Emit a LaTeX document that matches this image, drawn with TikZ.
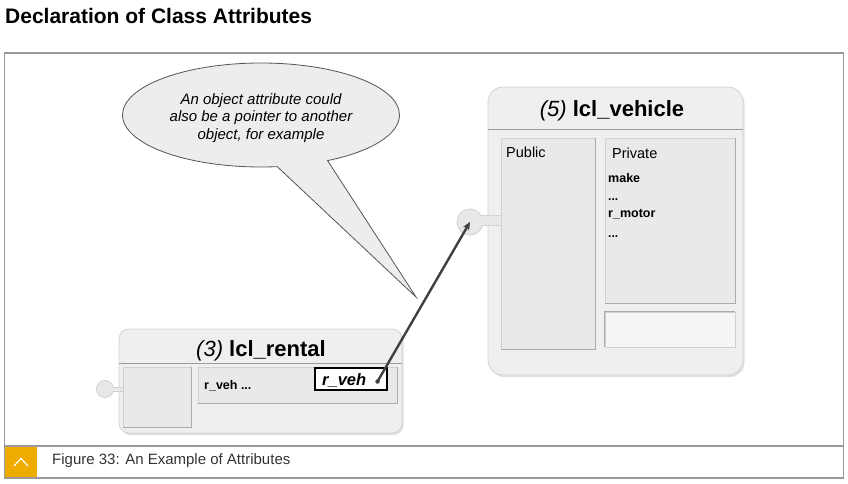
\documentclass[tikz,border=0pt]{standalone}
\usepackage{fontspec}
\setmainfont{Liberation Sans}
\usetikzlibrary{arrows.meta,shadows,shapes.callouts,shapes.geometric}
\definecolor{framecol}{HTML}{9A9A9A}
\definecolor{sapgold}{HTML}{F0AB00}
\definecolor{boxfill}{HTML}{EFEFEF}
\definecolor{boxedge}{HTML}{D4D4D4}
\definecolor{panelfill}{HTML}{E9E9E9}
\definecolor{paneledge}{HTML}{D0D0D0}
\definecolor{paneldark}{HTML}{ABABAB}
\definecolor{sepcol}{HTML}{9C9C9C}
\definecolor{ballfill}{HTML}{E8E8E8}
\definecolor{balledge}{HTML}{D2D2D2}
\definecolor{calloutfill}{HTML}{EDEDED}
\definecolor{calloutedge}{HTML}{555555}
\definecolor{pointercol}{HTML}{404040}
\definecolor{captext}{HTML}{333333}
\tikzset{
  classbox/.style={draw=boxedge, fill=boxfill, line width=0.8pt, rounded corners=#1,
    drop shadow={opacity=0.25, shadow xshift=1.5pt, shadow yshift=-2pt}, inner sep=0pt},
  panelbox/.style={draw=paneledge, fill=panelfill, line width=0.8pt, inner sep=0pt},
  darkedge/.style={draw=paneldark, line width=1pt},
  sepline/.style={draw=sepcol, line width=1pt},
  ballbox/.style={circle, draw=balledge, fill=ballfill, line width=0.8pt, inner sep=0pt},
  stubbox/.style={draw=balledge, fill=ballfill, line width=0.8pt, inner sep=0pt},
  ctitle/.style={font=\fontsize{22}{26}\selectfont, anchor=base, inner sep=0pt},
  attr/.style={font=\bfseries\fontsize{12.5}{14}\selectfont, anchor=base west, inner sep=0pt},
  dots/.style={font=\bfseries\fontsize{12}{14}\selectfont, anchor=base west, inner sep=0pt},
  plabel/.style={font=\fontsize{14.5}{17}\selectfont, anchor=base west, inner sep=0pt},
}
\begin{document}
\begin{tikzpicture}[x=1pt,y=-1pt]
\useasboundingbox (0,0) rectangle (848,483);
\fill[white] (0,0) rectangle (848,483);

% heading
\node[font=\bfseries\fontsize{21}{24}\selectfont, anchor=base west, inner sep=0pt] (heading) at (5,23) {Declaration of Class Attributes};

% frame
\node[draw=framecol, line width=1.5pt, minimum width=839pt, minimum height=425pt, inner sep=0pt] (frame) at (424,265.5) {};
\draw[framecol, line width=1.5pt] (frame.west |- 0,446) -- (frame.east |- 0,446);
\node[fill=sapgold, minimum width=32pt, minimum height=30pt, inner sep=0pt] (badge) at (21,462) {};
\draw[white, line width=1.2pt] ([shift={(-7,4)}]badge.center) -- ([shift={(0,-3.5)}]badge.center) -- ([shift={(7,4)}]badge.center);
\node[font=\fontsize{15}{17}\selectfont, text=captext, anchor=west, inner sep=0pt] (caption) at (52,461) {Figure 33: An Example of Attributes};

% callout
\node[ellipse callout, draw=calloutedge, fill=calloutfill, line width=0.8pt,
      minimum width=277pt, minimum height=104pt, inner sep=0pt,
      callout absolute pointer={(416,297)}, callout pointer arc=22] (bubble) at (261,115) {};
\node[font=\itshape\fontsize{15}{17.5}\selectfont, align=center, inner sep=0pt] (bubbletext) at (261,118)
  {An object attribute could\\also be a pointer to another\\object, for example};

% ---------- lcl_vehicle ----------
\node[classbox=15pt, minimum width=255pt, minimum height=288pt] (veh) at (615.5,231) {};
\draw[sepline] (veh.west |- 0,129) -- (veh.east |- 0,129);
\node[ctitle] (vehtitle) at (612,116) {{\itshape (5)} {\bfseries lcl\_vehicle}};

\node[stubbox, minimum width=21pt, minimum height=10pt] (vstub) at (490.5,220) {};
\node[ballbox, minimum size=26pt] (vball) at (470,222) {};
\fill[ballfill] (478,215.5) rectangle (485,224.5);

\node[panelbox, minimum width=94pt, minimum height=211pt] (pub) at (548,243.5) {};
\draw[darkedge] (pub.north east) -- (pub.south east) -- (pub.south west);
\node[panelbox, minimum width=130pt, minimum height=165pt] (priv) at (670,220.5) {};
\draw[darkedge] (priv.north east) -- (priv.south east) -- (priv.south west);
\node[panelbox, fill=boxfill!60!white, minimum width=130pt, minimum height=35pt] (meth) at (670,329.5) {};
\draw[darkedge] (meth.south west) -- (meth.north west) -- (meth.north east);

\node[plabel] (publbl) at (506,157) {Public};
\node[plabel] (privlbl) at (612,158) {Private};
\node[attr] (make) at (608,182) {make};
\node[dots] (dots1) at (608,200) {...};
\node[attr] (rmotor) at (608,217) {r\_motor};
\node[dots] (dots2) at (608,237) {...};

% ---------- lcl_rental ----------
\node[classbox=10pt, minimum width=283pt, minimum height=104pt] (rent) at (260.5,381) {};
\draw[sepline] (rent.west |- 0,363) -- (rent.east |- 0,363);
\node[ctitle] (renttitle) at (261,356) {{\itshape (3)} {\bfseries lcl\_rental}};

\node[stubbox, minimum width=10pt, minimum height=4pt] (rstub) at (118,389) {};
\node[ballbox, minimum size=17pt] (rball) at (105,389) {};
\fill[ballfill] (111.5,387.5) rectangle (115,390.5);

\node[panelbox, minimum width=68pt, minimum height=60pt] (rleft) at (157,397) {};
\draw[darkedge] (rleft.north east) -- (rleft.south east) -- (rleft.south west);
\node[panelbox, minimum width=199pt, minimum height=36pt] (rright) at (297.5,385) {};
\draw[darkedge] (rright.north east) -- (rright.south east) -- (rright.south west);

\node[attr] (rvehtxt) at (204,389) {r\_veh ...};
\node[draw=black, fill=white, line width=1.3pt, minimum width=72pt, minimum height=22pt, inner sep=0pt] (rvehbox) at (351,379) {};
\node[font=\bfseries\itshape\fontsize{16.5}{19}\selectfont, anchor=base west, inner sep=0pt] (rvehlbl) at (322,385) {r\_veh};
\node[circle, fill=pointercol, minimum size=4.5pt, inner sep=0pt] (rdot) at (377.5,381.5) {};

% pointer
\draw[pointercol, line width=2.4pt, -{Stealth[length=8pt,width=7pt]}] (rdot.center) -- (vball.center);
\end{tikzpicture}
\end{document}
